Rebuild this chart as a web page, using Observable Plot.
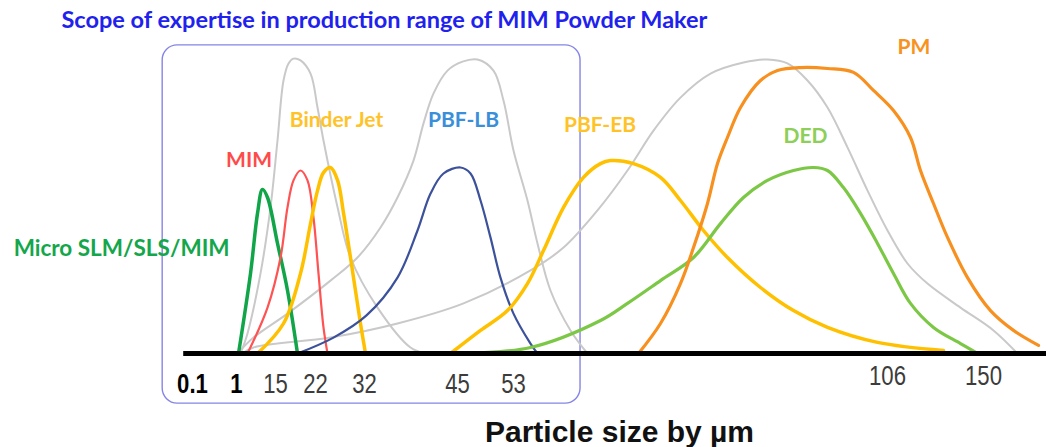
<!DOCTYPE html>
<html>
<head>
<meta charset="utf-8">
<script src="https://cdn.jsdelivr.net/npm/d3@7"></script>
<script src="https://cdn.jsdelivr.net/npm/@observablehq/plot@0.6"></script>
<style>
  html, body { margin: 0; padding: 0; background: #fff; }
  #chart svg { display: block; }
</style>
</head>
<body>
<div id="chart"></div>
<script>
// ---- Axis (particle size, µm) ----
const tickValues = [0.1, 1, 15, 22, 32, 45, 53, 106, 150];
const tickLabels = ["0.1", "1", "15", "22", "32", "45", "53", "106", "150"];
const boldTicks = ["0.1", "1"];

// ---- Scope box and axis extent (µm) ----
const scopeX = [-0.51, 62.5];
const scopeY = [-16.7, 102.7];
const axisExtent = [-0.08, 179];

// ---- Distribution curves (x in µm, y relative frequency) ----
const grayNarrowX = [2.44, 4.95, 9.62, 13.2, 15.35, 16.4, 17.28, 18.15, 19.38, 21.13, 22.41, 23.63, 26.51, 29.14, 33.82, 38.43, 40.53];
const grayNarrowY = [0, 6.7, 26.7, 48.7, 71, 91, 96.7, 98.3, 97.7, 93.3, 82, 71, 48.7, 32, 15.3, 2, 0];

const grayMidX = [1.36, 7.1, 17.1, 25.06, 30.57, 34.24, 36.61, 38.85, 40.25, 41.65, 43.6, 45.71, 47.86, 50.14, 51.57, 53, 54.98, 56.4, 58.24, 61.08, 63.49];
const grayMidY = [0, 5.3, 13.3, 24.3, 32, 42, 52, 64.3, 76.7, 86.7, 94.3, 97.3, 98, 94.3, 84.3, 67.7, 51, 36.7, 21, 7.7, 0];

const grayWideX = [3.15, 7.1, 25.06, 36.61, 45.86, 55.41, 60.09, 64.9, 69.15, 72.84, 76.66, 80.92, 85.59, 88.99, 91.83, 94.66, 97.5, 100.33, 103.17, 106, 115.17, 124.33, 139.46, 154.58, 165.58];
const grayWideY = [0, 2, 5.3, 10, 16.7, 27.7, 35.3, 47.7, 61, 74.3, 85.3, 93.3, 97, 98, 96.7, 91, 82, 68.7, 54.3, 41, 30, 23.3, 15.3, 7.7, 0];

const microX = [1.72, 6.03, 8.54, 10.33, 12.13, 15.35, 17.1, 18.85];
const microY = [0, 26.7, 46.7, 54.7, 52, 36.7, 21, 0];

const mimX = [4.95, 12.13, 15.88, 17.1, 18.15, 19.38, 20.6, 21.65, 22.61, 23.63, 24.45];
const mimY = [0, 15.3, 32, 48.7, 57.7, 61, 57.7, 45.3, 26.7, 8.7, 0];

const binderX = [8.54, 16.4, 19.38, 21.13, 22.41, 23.63, 25.06, 26.51, 27.73, 29.14, 31.18, 32.14];
const binderY = [0, 10, 26.7, 43.3, 54.3, 60.3, 62, 57.7, 46.7, 32, 10, 0];

const pbflbX = [18.85, 25.67, 32.28, 36.61, 39.41, 41.23, 43.04, 45.43, 46.86, 48.29, 49.71, 51.14, 53, 55.41, 56.4];
const pbflbY = [0, 5.3, 12.7, 25.3, 41, 53.3, 60, 62, 60, 51, 38.7, 25.3, 13.3, 3.3, 0];

const pbfebX = [44.02, 48.29, 52.14, 54.98, 57.25, 60.09, 62.92, 65.33, 66.75, 70, 73.83, 76.66, 79.92, 83.32, 88, 92.68, 97.5, 104.58, 131.67];
const pbfebY = [0, 7.7, 14.3, 23.3, 34.3, 48.7, 58.7, 63.3, 64.3, 63.3, 58.7, 51, 41, 32, 22, 14.3, 8.7, 3.7, 1];

const dedX = [45.86, 55.41, 65.33, 69.15, 73.83, 78.51, 82.33, 85.59, 88.99, 92.68, 95.51, 97.5, 99.76, 102.17, 104.58, 108.75, 116.54, 127.08, 139.46, 147.25];
const dedY = [0, 2, 11, 16.7, 24.3, 32, 43.3, 52, 57.7, 61, 62, 61, 55.3, 46.7, 36.7, 26.7, 16.7, 8.7, 3.3, 0];

const pmX = [70.71, 73.83, 76.66, 78.51, 80.49, 81.91, 83.32, 85.17, 88, 90.41, 93.67, 97.5, 101.18, 104.01, 108.75, 116.54, 121.12, 127.08, 133.5, 142.67, 153.21, 163.75, 175.21];
const pmY = [0, 10, 23.3, 35.3, 50, 63.3, 72, 82, 91, 94.3, 95.3, 95, 93.7, 87.7, 81, 72, 61, 50, 38.7, 25.3, 14.3, 7.7, 2.7];

// ---- Curve labels ----
const labelNames = ["Micro SLM/SLS/MIM", "MIM", "Binder Jet", "PBF-LB", "PBF-EB", "DED", "PM"];
const labelX = [-1.35, 5.49, 26.29, 45.86, 65.26, 94.38, 118.15];
const labelY = [35, 64.3, 77.7, 77.7, 76, 72.3, 102];

const titleText = "Scope of expertise in production range of MIM Powder Maker";
const xLabelText = "Particle size by µm";

// ---- build tables ----
const series = [
  {xs: grayNarrowX, ys: grayNarrowY, color: "#c9c9c9", w: 2},
  {xs: grayMidX, ys: grayMidY, color: "#c9c9c9", w: 2},
  {xs: grayWideX, ys: grayWideY, color: "#c9c9c9", w: 2},
  {xs: microX, ys: microY, color: "#10a548", w: 3.5},
  {xs: mimX, ys: mimY, color: "#ff5252", w: 2.2},
  {xs: binderX, ys: binderY, color: "#ffc000", w: 3.5},
  {xs: pbflbX, ys: pbflbY, color: "#3c519b", w: 2.2},
  {xs: pbfebX, ys: pbfebY, color: "#ffc000", w: 3.5},
  {xs: dedX, ys: dedY, color: "#7cc846", w: 3.2},
  {xs: pmX, ys: pmY, color: "#f7901e", w: 3.2}
];
const labelColors = ["#14a64b", "#ff4a4a", "#ffc328", "#3a8fd8", "#ffc328", "#8dcf58", "#f7931e"];

const labels = labelNames.map((t, i) => ({t, x: labelX[i], y: labelY[i], c: labelColors[i]}));
const ticks = tickValues.map((v, i) => ({v, label: tickLabels[i], bold: boldTicks.includes(tickLabels[i])}));
const boldInner = ticks.filter(d => d.bold);
const plainInner = ticks.filter(d => !d.bold && d.v <= scopeX[1]);
const outerTicks = ticks.filter(d => d.v > scopeX[1]);

const calibriLike = "Lato, 'Open Sans', 'Noto Sans', sans-serif";
const arial = "'Liberation Sans', Arial, sans-serif";

const marks = [
  Plot.rect([{x1: scopeX[0], x2: scopeX[1], y1: scopeY[0], y2: scopeY[1]}],
    {x1: "x1", x2: "x2", y1: "y1", y2: "y2", fill: "none", stroke: "#8585e6", strokeWidth: 1.4, rx: 15}),
  ...series.map(s => Plot.line(s.xs.map((x, i) => ({x, y: s.ys[i]})),
    {x: "x", y: "y", stroke: s.color, strokeWidth: s.w, curve: "catmull-rom", strokeLinejoin: "round", strokeLinecap: "round"})),
  Plot.ruleY([0], {x1: axisExtent[0], x2: axisExtent[1], stroke: "#000", strokeWidth: 5}),
  Plot.text(boldInner, {x: "v", y: 0, text: "label", dy: 31, fontSize: 27, fontFamily: arial,
    fontWeight: "bold", fill: "#000", className: "tick-narrow"}),
  Plot.text(plainInner, {x: "v", y: 0, text: "label", dy: 31, fontSize: 27, fontFamily: arial,
    fill: "#3c3c3c", className: "tick-narrow"}),
  Plot.text(outerTicks, {x: "v", y: 0, text: "label", dy: 23, fontSize: 27, fontFamily: arial,
    fill: "#3c3c3c", className: "tick-narrow"}),
  Plot.text(labels.slice(0, 1), {x: "x", y: "y", text: "t", fill: "c", fontSize: 22.5, fontWeight: "bold", fontFamily: calibriLike}),
  Plot.text(labels.slice(1), {x: "x", y: "y", text: "t", fill: "c", fontSize: 21, fontWeight: "bold", fontFamily: calibriLike}),
  Plot.text([titleText], {frameAnchor: "top-left", textAnchor: "start", lineAnchor: "top", dx: 61, dy: 11,
    fontSize: 23.5, fontWeight: "bold", fontFamily: calibriLike, fill: "#2121ee"}),
  Plot.text([xLabelText], {frameAnchor: "bottom-left", textAnchor: "middle", lineAnchor: "middle", dx: 619, dy: -15,
    fontSize: 30, fontWeight: "bold", fontFamily: arial, fill: "#111"})
];

const chart = Plot.plot({
  width: 1046,
  height: 447,
  margin: 0,
  x: {type: "linear", domain: tickValues, range: [192, 236, 275, 315, 364, 457, 513, 887, 983], axis: null},
  y: {type: "linear", domain: [0, 100], range: [353, 53], axis: null},
  marks
});
document.getElementById("chart").appendChild(chart);

// condensed look for the tick numerals (narrow face)
chart.querySelectorAll("g.tick-narrow text").forEach(t => {
  const w = t.getComputedTextLength();
  t.setAttribute("textLength", (w * 0.82).toFixed(1));
  t.setAttribute("lengthAdjust", "spacingAndGlyphs");
});
</script>
</body>
</html>
